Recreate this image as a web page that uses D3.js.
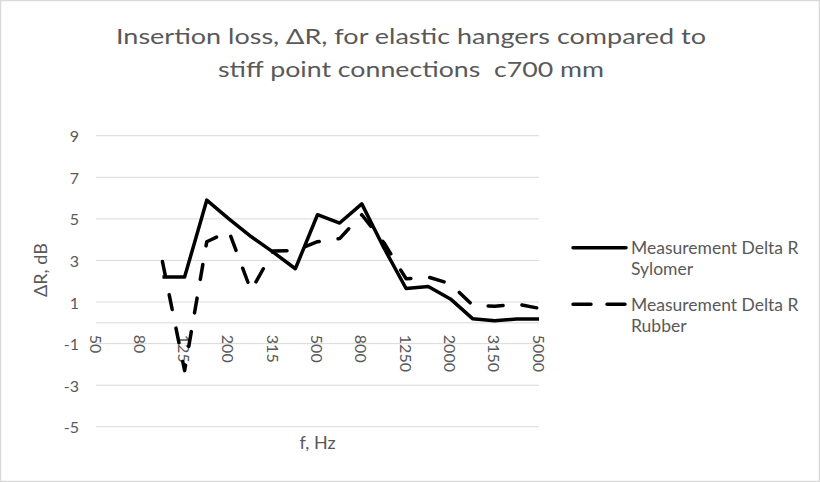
<!DOCTYPE html>
<html lang="en">
<head>
<meta charset="utf-8">
<title>Insertion loss</title>
<script src="https://d3js.org/d3.v7.min.js"></script>
<style>
  body { margin: 0; background: #fff; }
  svg text { font-family: Lato, "Open Sans", sans-serif; fill: #595959; }
</style>
</head>
<body>
<div id="main"></div>
<script>
// 1/3 octave bands
var freqs = ["50","63","80","100","125","160","200","250","315","400","500",
             "630","800","1000","1250","1600","2000","2500","3150","4000","5000"];
var sylomer = [null,null,null,2.2,2.2,5.9,5.0,4.15,3.4,2.6,5.2,4.8,5.72,3.6,1.65,1.75,1.15,0.2,0.1,0.18,0.18];
var rubber  = [null,null,null,2.95,-2.3,3.9,4.4,1.55,3.45,3.47,3.9,4.05,5.2,3.85,2.12,2.2,1.88,0.85,0.8,0.9,0.7];
var yTicks = [-5,-3,-1,1,3,5,7,9];
var seriesNames = ["Measurement Delta R Sylomer", "Measurement Delta R Rubber"];
var titleLines = ["Insertion loss, \u0394R, for elastic hangers compared to",
                  "stiff point connections  c700 mm"];

var width = 820, height = 482;

var svg = d3.select("#main").append("svg")
  .attr("width", width)
  .attr("height", height);

svg.append("rect")
  .attr("x", 0.5).attr("y", 0.5)
  .attr("width", width - 1).attr("height", height - 1)
  .attr("fill", "#fff")
  .attr("stroke", "#d9d9d9")
  .attr("stroke-width", 1.5);

var x = d3.scalePoint().domain(freqs).range([96, 539]);
var y = d3.scaleLinear().domain([-5, 9]).range([426.8, 135.7]);

// gridlines
svg.append("g")
  .selectAll("line")
  .data(yTicks)
  .enter().append("line")
  .attr("x1", x.range()[0]).attr("x2", x.range()[1])
  .attr("y1", function(d) { return y(d); })
  .attr("y2", function(d) { return y(d); })
  .attr("stroke", "#d9d9d9")
  .attr("stroke-width", 1);

// horizontal axis line at 0
svg.append("line")
  .attr("x1", x.range()[0]).attr("x2", x.range()[1])
  .attr("y1", y(0)).attr("y2", y(0))
  .attr("stroke", "#d9d9d9")
  .attr("stroke-width", 1);

// y tick labels
svg.append("g")
  .selectAll("text")
  .data(yTicks)
  .enter().append("text")
  .attr("x", 79)
  .attr("y", function(d) { return y(d); })
  .attr("text-anchor", "end")
  .attr("dominant-baseline", "central")
  .style("font-size", "16px")
  .text(function(d) { return d; });

// x tick labels, every other band, rotated
svg.append("g")
  .selectAll("text")
  .data(freqs.filter(function(d, i) { return i % 2 == 0; }))
  .enter().append("text")
  .attr("transform", function(d) { return "translate(" + x(d) + "," + (y(0) + 12) + ") rotate(90)"; })
  .attr("text-anchor", "start")
  .attr("dominant-baseline", "central")
  .style("font-size", "16px")
  .text(function(d) { return d; });

var line = d3.line()
  .defined(function(d) { return d[1] != null; })
  .x(function(d) { return x(d[0]); })
  .y(function(d) { return y(d[1]); });

function pairs(vals) { return freqs.map(function(f, i) { return [f, vals[i]]; }); }

svg.append("path")
  .datum(pairs(sylomer))
  .attr("d", line)
  .attr("fill", "none")
  .attr("stroke", "#000")
  .attr("stroke-width", 3.5)
  .attr("stroke-linejoin", "round");

svg.append("path")
  .datum(pairs(rubber))
  .attr("d", line)
  .attr("fill", "none")
  .attr("stroke", "#000")
  .attr("stroke-width", 3.5)
  .attr("stroke-dasharray", "15,19")
  .attr("stroke-linecap", "round")
  .attr("stroke-linejoin", "round");

// title (stretched a little to the width of the original)
var titleWidths = [590, 386];
var title = svg.append("g");
titleLines.forEach(function(t, i) {
  title.append("text")
    .attr("x", 411)
    .attr("y", 44 + i * 32.5)
    .attr("text-anchor", "middle")
    .attr("textLength", titleWidths[i])
    .attr("lengthAdjust", "spacingAndGlyphs")
    .style("font-size", "22px")
    .style("white-space", "pre")
    .text(t);
});

// axis titles
svg.append("text")
  .attr("transform", "translate(40," + 270 + ") rotate(-90)")
  .attr("text-anchor", "middle")
  .attr("dominant-baseline", "central")
  .style("font-size", "18px")
  .text("\u0394R, dB");

svg.append("text")
  .attr("x", (x.range()[0] + x.range()[1]) / 2)
  .attr("y", 449)
  .attr("text-anchor", "middle")
  .style("font-size", "18px")
  .text("f, Hz");

// legend
var legendY = [247.7, 304.3];
seriesNames.forEach(function(name, i) {
  var g = svg.append("g");
  g.append("line")
    .attr("x1", 573).attr("x2", 626)
    .attr("y1", legendY[i]).attr("y2", legendY[i])
    .attr("stroke", "#000")
    .attr("stroke-width", 3.5)
    .attr("stroke-linecap", "round")
    .attr("stroke-dasharray", i == 1 ? "18,16" : null);
  var words = name.split(" ");
  var l1 = words.slice(0, 3).join(" "), l2 = words.slice(3).join(" ");
  [l1, l2].forEach(function(t, j) {
    g.append("text")
      .attr("x", 631)
      .attr("y", legendY[i] + j * 20.7)
      .attr("dominant-baseline", "central")
      .style("font-size", "17.5px")
      .text(t);
  });
});
</script>
</body>
</html>
